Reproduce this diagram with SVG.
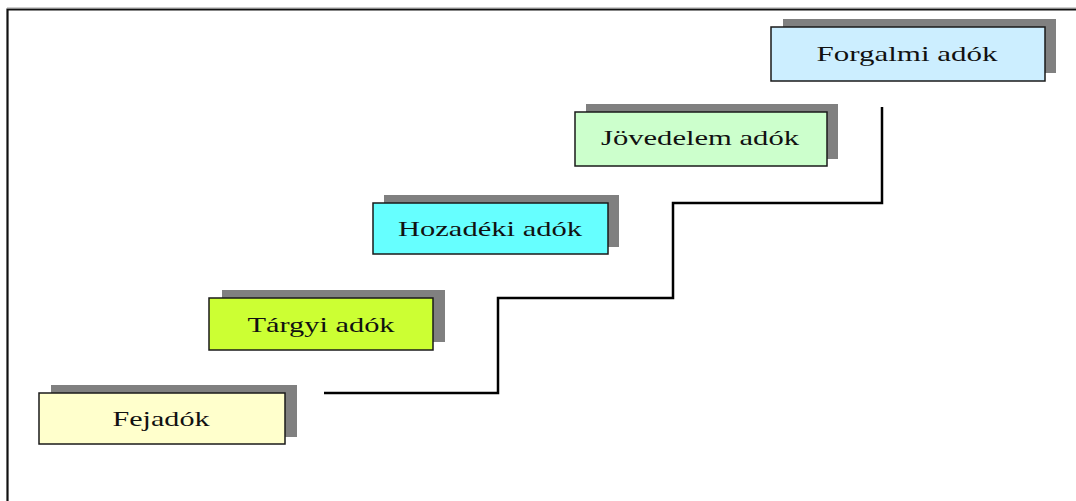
<svg xmlns="http://www.w3.org/2000/svg" width="1076" height="501" viewBox="0 0 1076 501">
  <style>
    .shadow { fill: #808080; }
    .box { stroke: #1a1a1a; stroke-width: 1.5; }
    .label { font-family: "Liberation Serif", "Times New Roman", serif; font-size: 21px; fill: #111; text-anchor: middle; }
    .step { fill: none; stroke: #000; stroke-width: 2.5; }
  </style>
  <rect width="1076" height="501" fill="#ffffff"/>
  <!-- frame: top and left edges only -->
  <path d="M7.5,501 V9.5 H1076" fill="none" stroke="#111" stroke-width="2.2"/>
  <line x1="7" y1="7.6" x2="1076" y2="7.6" stroke="#bbb" stroke-width="0.8"/>

  <g id="connectors">
    <path class="step" d="M324,393 H498 V298 H673 V203 H882 V107"/>
  </g>

  <g id="fejadok">
    <rect class="shadow" x="51" y="385" width="246" height="52"/>
    <rect class="box" x="39" y="393" width="246" height="51" fill="#ffffcc"/>
    <text class="label" x="161" y="426" textLength="97" lengthAdjust="spacingAndGlyphs">Fejadók</text>
  </g>
  <g id="targyi">
    <rect class="shadow" x="222" y="290" width="223" height="52"/>
    <rect class="box" x="209" y="298" width="224" height="52" fill="#ccff33"/>
    <text class="label" x="321" y="332" textLength="147" lengthAdjust="spacingAndGlyphs">Tárgyi adók</text>
  </g>
  <g id="hozadeki">
    <rect class="shadow" x="384" y="195" width="235" height="52"/>
    <rect class="box" x="373" y="203" width="235" height="51" fill="#66ffff"/>
    <text class="label" x="490" y="236" textLength="184" lengthAdjust="spacingAndGlyphs">Hozadéki adók</text>
  </g>
  <g id="jovedelem">
    <rect class="shadow" x="586" y="104" width="252" height="55"/>
    <rect class="box" x="575" y="112" width="252" height="54" fill="#ccffcc"/>
    <text class="label" x="700" y="145" textLength="198" lengthAdjust="spacingAndGlyphs">Jövedelem adók</text>
  </g>
  <g id="forgalmi">
    <rect class="shadow" x="783" y="19" width="273" height="54"/>
    <rect class="box" x="771" y="27" width="274" height="54" fill="#cceeff"/>
    <text class="label" x="907" y="61" textLength="181" lengthAdjust="spacingAndGlyphs">Forgalmi adók</text>
  </g>
</svg>
